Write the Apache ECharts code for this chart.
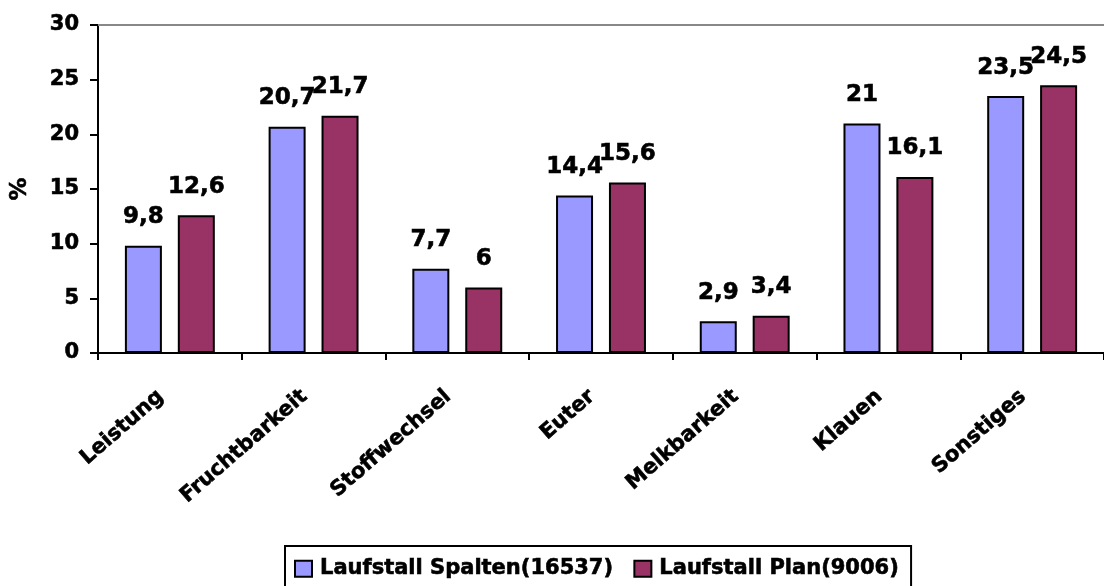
<!DOCTYPE html>
<html>
<head>
<meta charset="utf-8">
<script src="https://cdn.jsdelivr.net/npm/echarts@6/dist/echarts.min.js"></script>
<style>
  html, body { margin: 0; padding: 0; background: #fff; }
  #chart { width: 1104px; height: 586px; }
</style>
</head>
<body>
<div id="chart"></div>
<script>
const categories = ["Leistung", "Fruchtbarkeit", "Stoffwechsel", "Euter", "Melkbarkeit", "Klauen", "Sonstiges"];
const spalten = [9.8, 20.7, 7.7, 14.4, 2.9, 21, 23.5];
const plan = [12.6, 21.7, 6, 15.6, 3.4, 16.1, 24.5];
const seriesNames = ["Laufstall Spalten(16537)", "Laufstall Plan(9006)"];
const yTicks = { min: 0, max: 30, interval: 5 };

const font = "DejaVu Sans";
// makes the bold text a bit heavier, closer to the original
const heavy = { textBorderColor: "#000", textBorderWidth: 0.6 };
const chart = echarts.init(document.getElementById("chart"));

const labelOpt = {
  show: true,
  position: "top",
  distance: 17,
  fontFamily: font,
  fontWeight: "bold",
  fontSize: 23,
  color: "#000",
  ...heavy,
  formatter: (p) => String(p.value).replace(".", ","),
};

chart.setOption({
  animation: false,
  grid: { left: 98, right: -9, top: 25, bottom: 233 },
  legend: {
    left: 285,
    top: 546,
    orient: "horizontal",
    borderColor: "#000",
    borderWidth: 2,
    padding: [12, 12, 12, 9],
    itemWidth: 17,
    itemHeight: 16,
    itemGap: 20,
    icon: "rect",
    itemStyle: { borderColor: "#000", borderWidth: 2 },
    data: seriesNames,
    textStyle: {
      fontFamily: font,
      fontWeight: "bold",
      fontSize: 21,
      color: "#000",
      padding: [0, 0, 0, 3],
      ...heavy,
    },
  },
  xAxis: [
    {
      type: "category",
      data: categories,
      axisLine: { lineStyle: { color: "#000", width: 2 } },
      axisTick: { show: true, length: 7, lineStyle: { color: "#000", width: 2 } },
      axisLabel: {
        rotate: 41,
        margin: 33,
        interval: 0,
        padding: [0, 12, 0, 0],
        fontFamily: font,
        fontWeight: "bold",
        fontSize: 21,
        color: "#000",
        ...heavy,
      },
    },
    {
      type: "category",
      position: "top",
      data: categories,
      axisLine: { lineStyle: { color: "#888", width: 2 } },
      axisTick: { show: false },
      axisLabel: { show: false },
    },
  ],
  yAxis: {
    type: "value",
    min: yTicks.min,
    max: yTicks.max,
    interval: yTicks.interval,
    name: "%",
    nameLocation: "middle",
    nameGap: 66,
    nameRotate: 90,
    nameTextStyle: { fontFamily: font, fontWeight: "bold", fontSize: 23, color: "#000", ...heavy },
    axisLine: { show: true, lineStyle: { color: "#000", width: 2 } },
    axisTick: { show: true, length: 8, lineStyle: { color: "#000", width: 2 } },
    splitLine: { show: false },
    axisLabel: { margin: 19, fontFamily: font, fontWeight: "bold", fontSize: 21, color: "#000", ...heavy },
  },
  series: [
    {
      name: seriesNames[0],
      type: "bar",
      data: spalten,
      barWidth: 37,
      barGap: "43%",
      itemStyle: { color: "#9999FF", borderColor: "#000", borderWidth: 2 },
      label: labelOpt,
    },
    {
      name: seriesNames[1],
      type: "bar",
      data: plan,
      barWidth: 37,
      barGap: "43%",
      itemStyle: { color: "#993366", borderColor: "#000", borderWidth: 2 },
      label: labelOpt,
    },
  ],
});
</script>
</body>
</html>
